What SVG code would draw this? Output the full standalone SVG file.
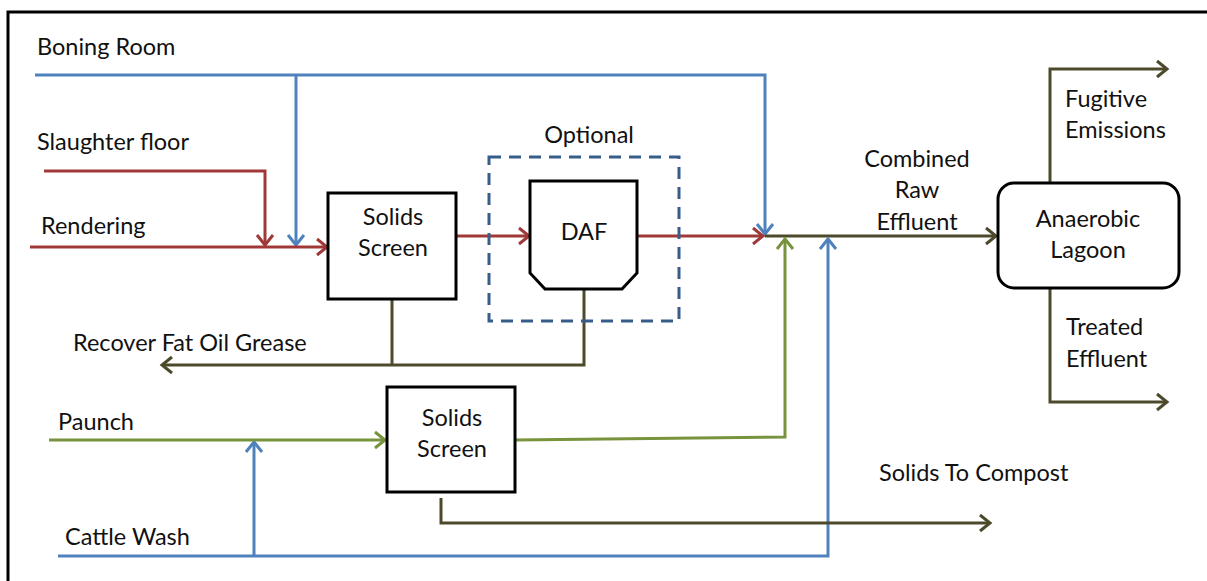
<svg xmlns="http://www.w3.org/2000/svg" width="1207" height="581" viewBox="0 0 1207 581">
<style>
text{font-family:Lato,"Liberation Sans",sans-serif;font-size:23.5px;fill:#111}
.c{text-anchor:middle}
.box{fill:#fff;stroke:#000;stroke-width:3}
.bl{stroke:#4F81BD;stroke-width:3;fill:none}
.rd{stroke:#A03838;stroke-width:3;fill:none}
.gr{stroke:#77933C;stroke-width:3;fill:none}
.ol{stroke:#4D4A2C;stroke-width:3;fill:none}
</style>
<defs>
<marker id="aB" markerUnits="userSpaceOnUse" markerWidth="16" markerHeight="20" viewBox="0 0 16 20" refX="13" refY="10" orient="auto"><path d="M3,2 L13,10 L3,18" fill="none" stroke="#4F81BD" stroke-width="3"/></marker>
<marker id="aR" markerUnits="userSpaceOnUse" markerWidth="16" markerHeight="20" viewBox="0 0 16 20" refX="13" refY="10" orient="auto"><path d="M3,2 L13,10 L3,18" fill="none" stroke="#A03838" stroke-width="3"/></marker>
<marker id="aG" markerUnits="userSpaceOnUse" markerWidth="16" markerHeight="20" viewBox="0 0 16 20" refX="13" refY="10" orient="auto"><path d="M3,2 L13,10 L3,18" fill="none" stroke="#77933C" stroke-width="3"/></marker>
<marker id="aO" markerUnits="userSpaceOnUse" markerWidth="16" markerHeight="20" viewBox="0 0 16 20" refX="13" refY="10" orient="auto"><path d="M3,2 L13,10 L3,18" fill="none" stroke="#4D4A2C" stroke-width="3"/></marker>
</defs>
<rect width="1207" height="581" fill="#fff"/>
<path d="M8,581 V12 H1207" fill="none" stroke="#000" stroke-width="3"/>

<g id="connectors">
<path class="bl" d="M35,75 H765 V234" marker-end="url(#aB)"/>
<path class="bl" d="M296,75 V245" marker-end="url(#aB)"/>
<path class="rd" d="M44,171 H265 V245" marker-end="url(#aR)"/>
<path class="rd" d="M30,247 H327" marker-end="url(#aR)"/>
<path class="rd" d="M456,236 H529" marker-end="url(#aR)"/>
<path class="rd" d="M638,236 H763" marker-end="url(#aR)"/>
<path class="ol" d="M765,236 H996" marker-end="url(#aO)"/>
<path class="gr" d="M515,440 L785,437 V239" marker-end="url(#aG)"/>
<path class="bl" d="M58,556 H828 V239" marker-end="url(#aB)"/>
<path class="bl" d="M254,556 V442" marker-end="url(#aB)"/>
<path class="gr" d="M49,440 H385" marker-end="url(#aG)"/>
<path class="ol" d="M392,299 V364"/>
<path class="ol" d="M584,289 V365 H162" marker-end="url(#aO)"/>
<path class="ol" d="M441,498 V523 H990" marker-end="url(#aO)"/>
<path class="ol" d="M1050,183 V69 H1167" marker-end="url(#aO)"/>
<path class="ol" d="M1050,288 V402 H1167" marker-end="url(#aO)"/>
</g>

<g id="optional">
<rect x="489" y="157" width="190" height="164" fill="none" stroke="#385D8A" stroke-width="3" stroke-dasharray="12,8"/>
<text class="c" x="589" y="143">Optional</text>
</g>

<g id="screen1">
<rect class="box" x="328" y="193" width="128" height="106"/>
<text class="c" x="393" y="225">Solids</text>
<text class="c" x="393" y="256">Screen</text>
</g>

<g id="daf">
<path class="box" d="M530,181 H637 V273 L622,289 H545 L530,273 Z"/>
<text class="c" x="584" y="240">DAF</text>
</g>

<g id="screen2">
<rect class="box" x="387" y="387" width="128" height="105"/>
<text class="c" x="452" y="426">Solids</text>
<text class="c" x="452" y="457">Screen</text>
</g>

<g id="lagoon">
<rect class="box" x="998" y="183" width="181" height="105" rx="16"/>
<text class="c" x="1088" y="227">Anaerobic</text>
<text class="c" x="1088" y="258">Lagoon</text>
</g>

<g id="labels">
<text x="37" y="55">Boning Room</text>
<text x="37" y="150">Slaughter floor</text>
<text x="41" y="234">Rendering</text>
<text x="73" y="351">Recover Fat Oil Grease</text>
<text x="58" y="430">Paunch</text>
<text x="65" y="545">Cattle Wash</text>
<text x="879" y="481">Solids To Compost</text>
<text class="c" x="917" y="167">Combined</text>
<text class="c" x="917" y="198">Raw</text>
<text class="c" x="917" y="230">Effluent</text>
<text x="1065" y="107">Fugitive</text>
<text x="1065" y="138">Emissions</text>
<text x="1066" y="335">Treated</text>
<text x="1066" y="367">Effluent</text>
</g>
</svg>
